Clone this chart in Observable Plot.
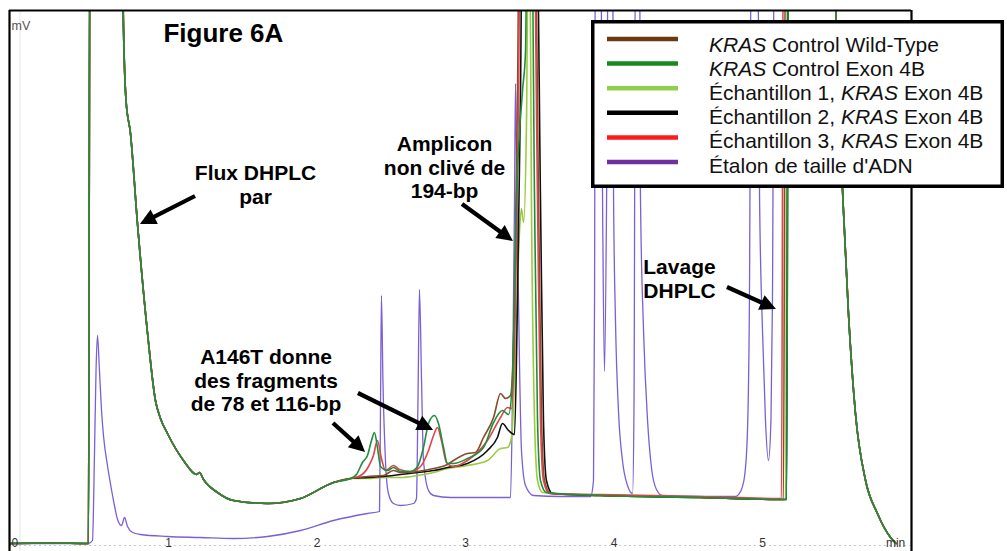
<!DOCTYPE html>
<html><head><meta charset="utf-8">
<script src="https://cdn.jsdelivr.net/npm/d3@7"></script>
<script src="https://cdn.jsdelivr.net/npm/@observablehq/plot@0.6"></script>
<style>
html,body{margin:0;padding:0;background:#fff;}
#wrap{position:relative;width:1007px;height:551px;overflow:hidden;font-family:"Liberation Sans",Arial,sans-serif;}
#wrap svg{position:absolute;left:0;top:0;}
</style></head><body><div id="wrap"></div>
<script>
// ---------- DATA (time in min, signal in mV) ----------
const OFF = 130; // off-scale (clipped at top of the frame)

const seriesNames = [
  "KRAS Control Wild-Type",
  "KRAS Control Exon 4B",
  "Échantillon 1, KRAS Exon 4B",
  "Échantillon 2, KRAS Exon 4B",
  "Échantillon 3, KRAS Exon 4B",
  "Étalon de taille d'ADN"
];
const lineColors   = ["#8a4b2c", "#1d8f3c", "#9acb3e", "#111111", "#e0454a", "#7b5fd6"];
const legendColors = ["#6b3a12", "#168a1e", "#8fcf4c", "#000000", "#ff1a1a", "#7030a0"];

// shared part of the five sample traces: injection / flow-through
const startSeg = [[-0.071,0],[0.205,0.1],[0.461,0],[0.471,OFF],[0.690,OFF],[0.695,106.6],[0.714,88.6],
  [0.744,82.0],[0.791,64.0],[0.859,42.0],[0.912,28.6],[0.946,25.0],[0.993,22.0],[1.101,16.6],[1.189,13.8],
  [1.209,14.2],[1.236,12.8],[1.330,10.2],[1.438,8.6],[1.667,8.0],[1.889,9.0],[2.111,12.2],[2.226,13.0]];

// shared part: wash step descent
const washSeg = [[5.485,OFF],[5.495,106.6],[5.512,88.6],[5.539,70.6],[5.579,46.0],[5.626,26.0],
  [5.694,12.6],[5.774,6.0],[5.862,1.2],[5.899,0]];

const wildTypeMid = [[2.340,13.4],[2.448,13.6],[2.515,14.6],[2.562,14.2],[2.677,14.4],[2.785,15.0],[2.879,15.8],
  [2.919,16.6],[3.013,18.0],[3.067,18.2],[3.121,21.2],[3.189,25.2],[3.236,30.0],[3.269,29.0],[3.303,29.6],
  [3.330,48.6],[3.350,88.6],[3.364,OFF],[3.465,OFF],[3.492,68.6],[3.512,24.6],[3.532,12.6],[3.572,10.0],
  [3.909,9.6],[4.582,9.2],[5.141,8.8],[5.155,OFF]];

const controlExonMid = [[2.266,13.8],[2.306,16.2],[2.340,17.6],[2.367,20.6],[2.387,22.2],[2.407,19.2],[2.428,15.4],
  [2.475,14.6],[2.515,15.2],[2.562,14.4],[2.630,14.4],[2.677,15.4],[2.717,19.2],[2.751,24.0],[2.791,25.6],
  [2.818,24.0],[2.852,19.2],[2.879,16.0],[2.919,16.0],[3.013,17.0],[3.121,19.2],[3.189,24.2],[3.249,26.6],
  [3.290,25.8],[3.316,32.6],[3.343,68.6],[3.384,90.6],[3.404,98.2],[3.418,OFF],[3.444,OFF],[3.465,68.6],
  [3.485,24.6],[3.505,12.6],[3.545,10.2],[3.909,9.6],[4.582,9.2],[5.162,8.8],[5.175,OFF]];

const sample1Mid = [[2.340,13.0],[2.448,13.2],[2.562,13.2],[2.677,13.6],[2.785,14.2],[2.879,15.0],[3.013,15.6],
  [3.148,16.6],[3.236,19.0],[3.283,19.2],[3.310,21.2],[3.337,38.6],[3.364,62.6],[3.377,67.0],[3.391,64.2],
  [3.411,84.6],[3.424,OFF],[3.431,OFF],[3.444,68.6],[3.465,24.6],[3.485,12.6],[3.519,10.2],[3.909,9.6],
  [4.582,9.2],[5.155,8.8],[5.168,OFF]];

const sample2Mid = [[2.340,13.2],[2.448,13.4],[2.562,13.8],[2.677,14.2],[2.785,14.6],[2.879,15.2],[3.013,16.0],
  [3.148,18.6],[3.215,21.2],[3.249,24.0],[3.290,22.6],[3.330,21.8],[3.350,48.6],[3.370,88.6],[3.384,OFF],
  [3.478,OFF],[3.505,68.6],[3.525,24.6],[3.545,12.6],[3.586,10.0],[3.909,9.6],[4.582,9.2],[5.162,8.8],[5.175,OFF]];

const sample3Mid = [[2.293,13.6],[2.347,15.4],[2.380,17.6],[2.407,20.6],[2.434,17.0],[2.461,14.6],[2.515,15.6],
  [2.556,14.8],[2.630,14.4],[2.697,15.4],[2.751,18.6],[2.785,21.6],[2.811,23.2],[2.838,20.6],[2.872,16.2],
  [2.919,15.4],[3.013,16.6],[3.148,20.6],[3.236,25.2],[3.283,27.2],[3.310,27.0],[3.337,48.6],[3.357,88.6],
  [3.370,OFF],[3.458,OFF],[3.485,68.6],[3.505,24.6],[3.525,12.6],[3.566,10.0],[3.909,9.8],[4.582,9.4],
  [5.128,9.0],[5.141,OFF]];

const ladder = [[-0.071,0],[0.461,0],[0.488,0.6],[0.502,18.6],[0.512,34.6],[0.522,41.6],[0.535,34.6],[0.549,26.6],
  [0.562,21.6],[0.589,15.6],[0.609,12.0],[0.636,7.6],[0.657,4.8],[0.684,3.6],[0.704,5.2],[0.724,3.4],[0.758,2.2],
  [0.811,1.8],[0.993,1.4],[1.215,1.2],[1.438,1.0],[1.667,1.4],[1.889,2.6],[2.111,4.6],[2.340,6.0],[2.421,6.4],
  [2.428,28.6],[2.434,49.6],[2.444,32.6],[2.461,16.6],[2.481,10.0],[2.515,8.0],[2.562,7.6],[2.650,8.0],[2.670,9.0],
  [2.680,28.6],[2.690,50.8],[2.704,32.6],[2.717,16.6],[2.751,10.6],[2.785,9.6],[2.899,9.2],[3.121,9.2],[3.303,9.2],
  [3.316,28.6],[3.330,68.6],[3.337,92.0],[3.343,78.6],[3.357,48.6],[3.377,18.6],[3.404,11.6],[3.458,9.6],
  [3.640,9.4],[3.842,9.4],[3.862,12.6],[3.869,48.6],[3.875,OFF],[3.909,OFF],[3.923,68.6],[3.936,34.4],[3.950,68.6],
  [3.963,OFF],[3.990,OFF],[3.997,70.0],[4.010,44.6],[4.030,26.6],[4.057,16.6],[4.091,11.6],[4.125,10.0],[4.135,28.6],
  [4.145,OFF],[4.172,OFF],[4.178,70.0],[4.199,42.6],[4.226,24.6],[4.253,15.0],[4.286,10.8],[4.327,9.6],[4.582,9.4],
  [4.818,9.4],[4.852,10.4],[4.879,13.4],[4.899,22.6],[4.912,48.6],[4.926,OFF],[4.966,OFF],[4.980,70.0],[5.000,42.6],
  [5.020,24.6],[5.040,16.6],[5.057,24.6],[5.067,48.6],[5.081,OFF]];

// x tick labels
const tickLabels = ["0","1","2","3","4","5","min"];
const tickPos    = [-0.035, 1, 2, 3, 4, 5, 5.896];

// annotations
const annoText = ["Flux DHPLC\npar", "A146T donne\ndes fragments\nde 78 et 116-bp", "Amplicon\nnon clivé de\n194-bp", "Lavage\nDHPLC"];
const annoT = [1.586, 1.657, 2.859, 4.441];
const annoV = [76.0, 39.2, 81.8, 57.2];
const titleText = ["Figure 6A"];
const titleT = [0.966], titleV = [104.0];

const arrowTail = [[1.182,69.4],[2.111,24.0],[2.279,30.0],[2.980,67.8],[4.764,51.2]];
const arrowTip  = [[0.811,63.8],[2.327,18.2],[2.785,22.6],[3.323,60.4],[5.094,46.8]];

// ---------- BUILD TABLE ----------
const mids = [wildTypeMid, controlExonMid, sample1Mid, sample2Mid, sample3Mid];
const rows = [];
mids.forEach((mid, i) => {
  for (const [t, v] of [...startSeg, ...mid, ...washSeg]) rows.push({s: seriesNames[i], t, v});
});
for (const [t, v] of [...ladder, ...washSeg]) rows.push({s: seriesNames[5], t, v});

const drawOrder = [5, 2, 3, 0, 4, 1];
const font = "Liberation Sans, Arial, Helvetica, sans-serif";

const chart = Plot.plot({
  width: 1007, height: 551,
  marginLeft: 9, marginRight: 96, marginTop: 10, marginBottom: 0,
  style: {fontFamily: font, background: "white"},
  x: {domain: [-0.0707, 6.0034], axis: null},
  y: {domain: [-1.6, 106.6], axis: null},
  marks: [
    Plot.ruleX([0], {stroke: "#e6e6e6", strokeWidth: 1}),
    Plot.ruleY([-0.4], {stroke: "#c8c8c8", strokeWidth: 1, strokeDasharray: "2,3"}),
    ...drawOrder.map(i => Plot.line(rows.filter(r => r.s === seriesNames[i]), {
      x: "t", y: "v", stroke: lineColors[i], strokeWidth: i === 5 ? 1.3 : 1.6,
      curve: "monotone-x", clip: true
    })),
    Plot.text(tickLabels, {x: (d, i) => tickPos[i], y: -0.75, text: d => d, fontSize: 12, fill: "#333",
      textAnchor: "middle", lineAnchor: "bottom"}),
    Plot.text(["mV"], {frameAnchor: "top-left", text: d => d, dx: 2, dy: 11, fontSize: 12.5, fill: "#555",
      textAnchor: "start", lineAnchor: "top"}),
    Plot.text(titleText, {x: (d, i) => titleT[i], y: (d, i) => titleV[i], text: d => d, fontSize: 26,
      fontWeight: "bold", fill: "#000", textAnchor: "start", lineAnchor: "top"}),
    Plot.text(annoText, {x: (d, i) => annoT[i], y: (d, i) => annoV[i], text: d => d, fontSize: 21,
      fontWeight: "bold", fill: "#000", textAnchor: "middle", lineAnchor: "top", lineHeight: 1.12}),
    Plot.ruleX([-0.0707, 6.0034], {stroke: "#000", strokeWidth: 2.2}),
    Plot.ruleY([106.6], {stroke: "#000", strokeWidth: 2.2})
  ]
});
document.getElementById("wrap").appendChild(chart);

// arrows with filled heads, placed through Plot's scales
const sx = chart.scale("x"), sy = chart.scale("y");
const ag = d3.select(chart).append("g").attr("fill", "#000").attr("stroke", "#000");
arrowTail.forEach((tail, i) => {
  const tip = arrowTip[i];
  const x1 = sx.apply(tail[0]), y1 = sy.apply(tail[1]);
  const x2 = sx.apply(tip[0]),  y2 = sy.apply(tip[1]);
  const len = Math.hypot(x2 - x1, y2 - y1), ux = (x2 - x1) / len, uy = (y2 - y1) / len;
  const L = 16, W = 8, bx = x2 - ux * L, by = y2 - uy * L;
  ag.append("line").attr("x1", x1).attr("y1", y1).attr("x2", bx + ux * 2).attr("y2", by + uy * 2)
    .attr("stroke-width", 4.2);
  ag.append("path").attr("stroke", "none")
    .attr("d", `M${x2},${y2}L${bx - uy * W},${by + ux * W}L${bx + uy * W},${by - ux * W}Z`);
});

// legend box (overlay)
const legendParts = [
  [["KRAS", true], [" Control Wild-Type", false]],
  [["KRAS", true], [" Control Exon 4B", false]],
  [["Échantillon 1, ", false], ["KRAS", true], [" Exon 4B", false]],
  [["Échantillon 2, ", false], ["KRAS", true], [" Exon 4B", false]],
  [["Échantillon 3, ", false], ["KRAS", true], [" Exon 4B", false]],
  [["Étalon de taille d'ADN", false]]
];
const lg = d3.select("#wrap").append("svg").attr("width", 1007).attr("height", 551)
  .style("pointer-events", "none").style("font-family", font);
lg.append("rect").attr("x", 592.75).attr("y", 21.75).attr("width", 409.5).attr("height", 164.5)
  .attr("fill", "#fff").attr("stroke", "#000").attr("stroke-width", 3.5);
legendParts.forEach((parts, i) => {
  const yl = 39 + i * 24.6;
  lg.append("line").attr("x1", 607).attr("x2", 678).attr("y1", yl).attr("y2", yl)
    .attr("stroke", legendColors[i]).attr("stroke-width", 4.5);
  const t = lg.append("text").attr("x", 709).attr("y", 52 + i * 24.1).attr("font-size", 21).attr("fill", "#111");
  parts.forEach(([s, it]) => t.append("tspan").attr("font-style", it ? "italic" : "normal").text(s));
});
</script></body></html>
